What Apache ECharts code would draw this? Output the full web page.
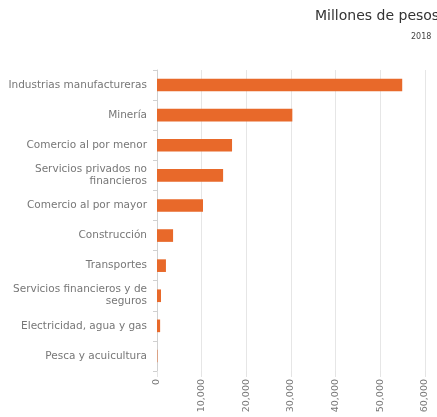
<!DOCTYPE html>
<html>
<head>
<meta charset="utf-8">
<script src="https://cdn.jsdelivr.net/npm/echarts@6/dist/echarts.min.js"></script>
<style>
  html, body { margin: 0; padding: 0; background: #fff; }
  #chart { width: 437px; height: 417px; }
</style>
</head>
<body>
<div id="chart"></div>
<script>
const sectors = [
  "Industrias manufactureras",
  "Minería",
  "Comercio al por menor",
  "Servicios privados no\nfinancieros",
  "Comercio al por mayor",
  "Construcción",
  "Transportes",
  "Servicios financieros y de\nseguros",
  "Electricidad, agua y gas",
  "Pesca y acuicultura"
];
const values = [54900, 30300, 16800, 14800, 10300, 3600, 2000, 900, 700, 100];

const labelFont = "DejaVu Sans";

const chart = echarts.init(document.getElementById("chart"));
chart.setOption({
  animation: false,
  title: [
    {
      text: "Millones de pesos",
      left: 315,
      top: 9,
      padding: 0,
      textStyle: { fontSize: 14, fontWeight: "normal", color: "#333", fontFamily: labelFont }
    },
    {
      text: "2018",
      left: 411,
      top: 33,
      padding: 0,
      textStyle: { fontSize: 8, fontWeight: "normal", color: "#444", fontFamily: labelFont }
    }
  ],
  grid: { left: 157, right: 12, top: 70, bottom: 46 },
  xAxis: {
    type: "value",
    min: 0,
    max: 60000,
    interval: 10000,
    axisLine: { show: false },
    axisTick: { show: true, length: 6, lineStyle: { color: "#e4e4e4" } },
    splitLine: { lineStyle: { color: "#e6e6e6" } },
    axisLabel: {
      rotate: 90,
      fontSize: 9.5,
      color: "#777",
      fontFamily: labelFont,
      margin: 8,
      formatter: (v) => v.toLocaleString("en-US")
    }
  },
  yAxis: {
    type: "category",
    inverse: true,
    data: sectors,
    axisLine: { lineStyle: { color: "#d0d0d0" } },
    axisTick: { show: true, length: 4, lineStyle: { color: "#d0d0d0" } },
    axisLabel: {
      fontSize: 10.5,
      color: "#777",
      fontFamily: labelFont,
      margin: 10,
      lineHeight: 12,
      align: "right"
    }
  },
  series: [{
    type: "bar",
    data: values,
    barCategoryGap: "58%",
    itemStyle: { color: "#e8692a" }
  }]
});
</script>
</body>
</html>
